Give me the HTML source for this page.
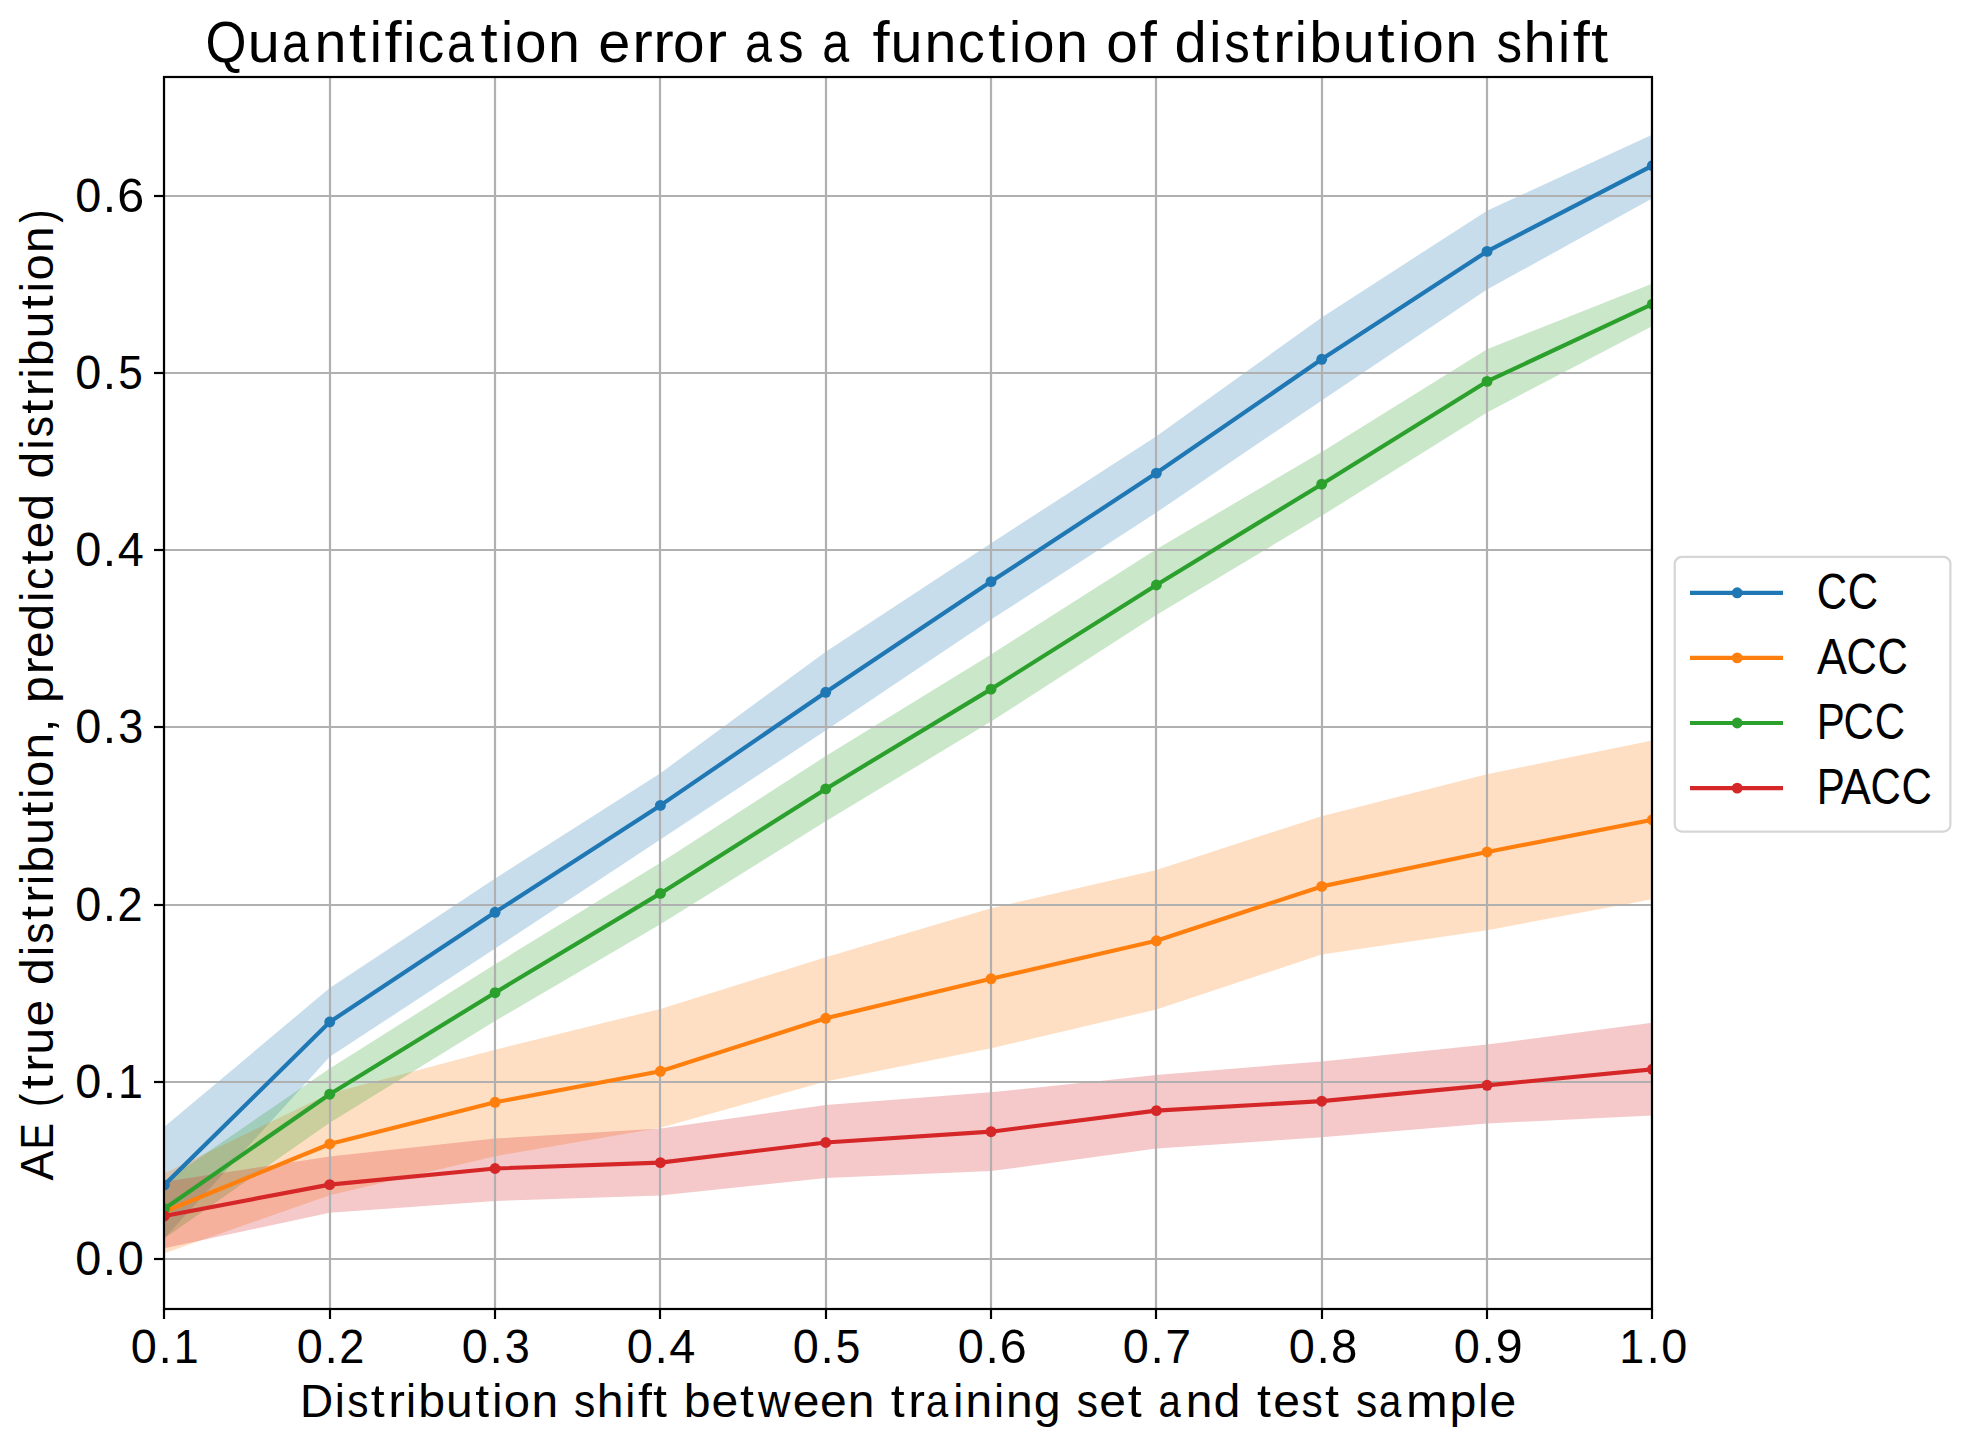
<!DOCTYPE html><html><head><meta charset="utf-8"><style>html,body{margin:0;padding:0;background:#fff;}svg{display:block;}text{font-family:"Liberation Sans",sans-serif;fill:#000;}</style></head><body>
<svg width="1969" height="1446" viewBox="0 0 1969 1446">
<rect x="0" y="0" width="1969" height="1446" fill="#fff"/>
<defs><clipPath id="ax"><rect x="164.0" y="77.0" width="1488.0" height="1232.0"/></clipPath></defs>
<g clip-path="url(#ax)">
<polygon points="164.40,1126.80 329.73,988.00 495.06,878.40 660.39,773.20 825.72,651.70 991.05,543.20 1156.38,436.30 1321.71,317.40 1487.04,210.70 1652.37,134.50 1652.37,198.40 1487.04,289.60 1321.71,400.40 1156.38,512.50 991.05,619.60 825.72,730.50 660.39,839.60 495.06,948.60 329.73,1056.80 164.40,1238.20" fill="#1f77b4" fill-opacity="0.25" stroke="none"/>
<polygon points="164.40,1173.20 329.73,1093.60 495.06,1049.70 660.39,1008.90 825.72,957.20 991.05,908.30 1156.38,869.90 1321.71,816.20 1487.04,774.30 1652.37,740.40 1652.37,899.20 1487.04,930.20 1321.71,954.40 1156.38,1009.50 991.05,1048.30 825.72,1081.40 660.39,1127.70 495.06,1156.20 329.73,1195.30 164.40,1253.20" fill="#ff7f0e" fill-opacity="0.25" stroke="none"/>
<polygon points="164.40,1181.70 329.73,1068.40 495.06,964.30 660.39,862.80 825.72,756.10 991.05,654.40 1156.38,549.30 1321.71,451.90 1487.04,349.30 1652.37,283.50 1652.37,326.10 1487.04,412.40 1321.71,515.80 1156.38,615.00 991.05,721.60 825.72,821.20 660.39,924.20 495.06,1021.00 329.73,1122.70 164.40,1238.20" fill="#2ca02c" fill-opacity="0.25" stroke="none"/>
<polygon points="164.40,1181.70 329.73,1156.50 495.06,1138.60 660.39,1128.50 825.72,1105.00 991.05,1092.30 1156.38,1074.90 1321.71,1061.40 1487.04,1044.50 1652.37,1022.80 1652.37,1115.50 1487.04,1123.50 1321.71,1137.30 1156.38,1148.50 991.05,1171.10 825.72,1177.90 660.39,1195.40 495.06,1200.90 329.73,1212.70 164.40,1248.20" fill="#d62728" fill-opacity="0.25" stroke="none"/>
<line x1="164" y1="77.0" x2="164" y2="1309.0" stroke="#b0b0b0" stroke-width="2.2"/>
<line x1="330" y1="77.0" x2="330" y2="1309.0" stroke="#b0b0b0" stroke-width="2.2"/>
<line x1="495" y1="77.0" x2="495" y2="1309.0" stroke="#b0b0b0" stroke-width="2.2"/>
<line x1="660" y1="77.0" x2="660" y2="1309.0" stroke="#b0b0b0" stroke-width="2.2"/>
<line x1="826" y1="77.0" x2="826" y2="1309.0" stroke="#b0b0b0" stroke-width="2.2"/>
<line x1="991" y1="77.0" x2="991" y2="1309.0" stroke="#b0b0b0" stroke-width="2.2"/>
<line x1="1156" y1="77.0" x2="1156" y2="1309.0" stroke="#b0b0b0" stroke-width="2.2"/>
<line x1="1322" y1="77.0" x2="1322" y2="1309.0" stroke="#b0b0b0" stroke-width="2.2"/>
<line x1="1487" y1="77.0" x2="1487" y2="1309.0" stroke="#b0b0b0" stroke-width="2.2"/>
<line x1="1652" y1="77.0" x2="1652" y2="1309.0" stroke="#b0b0b0" stroke-width="2.2"/>
<line x1="164.0" y1="1259" x2="1652.0" y2="1259" stroke="#b0b0b0" stroke-width="2.2"/>
<line x1="164.0" y1="1082" x2="1652.0" y2="1082" stroke="#b0b0b0" stroke-width="2.2"/>
<line x1="164.0" y1="905" x2="1652.0" y2="905" stroke="#b0b0b0" stroke-width="2.2"/>
<line x1="164.0" y1="727" x2="1652.0" y2="727" stroke="#b0b0b0" stroke-width="2.2"/>
<line x1="164.0" y1="550" x2="1652.0" y2="550" stroke="#b0b0b0" stroke-width="2.2"/>
<line x1="164.0" y1="373" x2="1652.0" y2="373" stroke="#b0b0b0" stroke-width="2.2"/>
<line x1="164.0" y1="196" x2="1652.0" y2="196" stroke="#b0b0b0" stroke-width="2.2"/>
<polyline points="164.40,1184.90 329.73,1022.00 495.06,912.30 660.39,805.40 825.72,692.30 991.05,581.60 1156.38,473.10 1321.71,359.30 1487.04,251.40 1652.37,165.60" fill="none" stroke="#1f77b4" stroke-width="4.17" stroke-linejoin="round" stroke-linecap="butt"/>
<circle cx="164.40" cy="1184.90" r="5.45" fill="#1f77b4"/>
<circle cx="329.73" cy="1022.00" r="5.45" fill="#1f77b4"/>
<circle cx="495.06" cy="912.30" r="5.45" fill="#1f77b4"/>
<circle cx="660.39" cy="805.40" r="5.45" fill="#1f77b4"/>
<circle cx="825.72" cy="692.30" r="5.45" fill="#1f77b4"/>
<circle cx="991.05" cy="581.60" r="5.45" fill="#1f77b4"/>
<circle cx="1156.38" cy="473.10" r="5.45" fill="#1f77b4"/>
<circle cx="1321.71" cy="359.30" r="5.45" fill="#1f77b4"/>
<circle cx="1487.04" cy="251.40" r="5.45" fill="#1f77b4"/>
<circle cx="1652.37" cy="165.60" r="5.45" fill="#1f77b4"/>
<polyline points="164.40,1211.70 329.73,1144.00 495.06,1102.30 660.39,1071.30 825.72,1018.30 991.05,978.80 1156.38,940.80 1321.71,886.40 1487.04,852.00 1652.37,819.80" fill="none" stroke="#ff7f0e" stroke-width="4.17" stroke-linejoin="round" stroke-linecap="butt"/>
<circle cx="164.40" cy="1211.70" r="5.45" fill="#ff7f0e"/>
<circle cx="329.73" cy="1144.00" r="5.45" fill="#ff7f0e"/>
<circle cx="495.06" cy="1102.30" r="5.45" fill="#ff7f0e"/>
<circle cx="660.39" cy="1071.30" r="5.45" fill="#ff7f0e"/>
<circle cx="825.72" cy="1018.30" r="5.45" fill="#ff7f0e"/>
<circle cx="991.05" cy="978.80" r="5.45" fill="#ff7f0e"/>
<circle cx="1156.38" cy="940.80" r="5.45" fill="#ff7f0e"/>
<circle cx="1321.71" cy="886.40" r="5.45" fill="#ff7f0e"/>
<circle cx="1487.04" cy="852.00" r="5.45" fill="#ff7f0e"/>
<circle cx="1652.37" cy="819.80" r="5.45" fill="#ff7f0e"/>
<polyline points="164.40,1208.70 329.73,1094.20 495.06,992.70 660.39,893.40 825.72,788.90 991.05,689.10 1156.38,585.00 1321.71,484.20 1487.04,381.40 1652.37,304.10" fill="none" stroke="#2ca02c" stroke-width="4.17" stroke-linejoin="round" stroke-linecap="butt"/>
<circle cx="164.40" cy="1208.70" r="5.45" fill="#2ca02c"/>
<circle cx="329.73" cy="1094.20" r="5.45" fill="#2ca02c"/>
<circle cx="495.06" cy="992.70" r="5.45" fill="#2ca02c"/>
<circle cx="660.39" cy="893.40" r="5.45" fill="#2ca02c"/>
<circle cx="825.72" cy="788.90" r="5.45" fill="#2ca02c"/>
<circle cx="991.05" cy="689.10" r="5.45" fill="#2ca02c"/>
<circle cx="1156.38" cy="585.00" r="5.45" fill="#2ca02c"/>
<circle cx="1321.71" cy="484.20" r="5.45" fill="#2ca02c"/>
<circle cx="1487.04" cy="381.40" r="5.45" fill="#2ca02c"/>
<circle cx="1652.37" cy="304.10" r="5.45" fill="#2ca02c"/>
<polyline points="164.40,1216.00 329.73,1184.60 495.06,1168.50 660.39,1162.60 825.72,1142.50 991.05,1131.70 1156.38,1110.60 1321.71,1101.20 1487.04,1085.30 1652.37,1069.30" fill="none" stroke="#d62728" stroke-width="4.17" stroke-linejoin="round" stroke-linecap="butt"/>
<circle cx="164.40" cy="1216.00" r="5.45" fill="#d62728"/>
<circle cx="329.73" cy="1184.60" r="5.45" fill="#d62728"/>
<circle cx="495.06" cy="1168.50" r="5.45" fill="#d62728"/>
<circle cx="660.39" cy="1162.60" r="5.45" fill="#d62728"/>
<circle cx="825.72" cy="1142.50" r="5.45" fill="#d62728"/>
<circle cx="991.05" cy="1131.70" r="5.45" fill="#d62728"/>
<circle cx="1156.38" cy="1110.60" r="5.45" fill="#d62728"/>
<circle cx="1321.71" cy="1101.20" r="5.45" fill="#d62728"/>
<circle cx="1487.04" cy="1085.30" r="5.45" fill="#d62728"/>
<circle cx="1652.37" cy="1069.30" r="5.45" fill="#d62728"/>
</g>
<rect x="164.0" y="77.0" width="1488.0" height="1232.0" fill="none" stroke="#000" stroke-width="2.2" stroke-linejoin="miter"/>
<line x1="164" y1="1309.0" x2="164" y2="1319.0" stroke="#000" stroke-width="2.2"/>
<line x1="330" y1="1309.0" x2="330" y2="1319.0" stroke="#000" stroke-width="2.2"/>
<line x1="495" y1="1309.0" x2="495" y2="1319.0" stroke="#000" stroke-width="2.2"/>
<line x1="660" y1="1309.0" x2="660" y2="1319.0" stroke="#000" stroke-width="2.2"/>
<line x1="826" y1="1309.0" x2="826" y2="1319.0" stroke="#000" stroke-width="2.2"/>
<line x1="991" y1="1309.0" x2="991" y2="1319.0" stroke="#000" stroke-width="2.2"/>
<line x1="1156" y1="1309.0" x2="1156" y2="1319.0" stroke="#000" stroke-width="2.2"/>
<line x1="1322" y1="1309.0" x2="1322" y2="1319.0" stroke="#000" stroke-width="2.2"/>
<line x1="1487" y1="1309.0" x2="1487" y2="1319.0" stroke="#000" stroke-width="2.2"/>
<line x1="1652" y1="1309.0" x2="1652" y2="1319.0" stroke="#000" stroke-width="2.2"/>
<line x1="154.0" y1="1259" x2="164.0" y2="1259" stroke="#000" stroke-width="2.2"/>
<line x1="154.0" y1="1082" x2="164.0" y2="1082" stroke="#000" stroke-width="2.2"/>
<line x1="154.0" y1="905" x2="164.0" y2="905" stroke="#000" stroke-width="2.2"/>
<line x1="154.0" y1="727" x2="164.0" y2="727" stroke="#000" stroke-width="2.2"/>
<line x1="154.0" y1="550" x2="164.0" y2="550" stroke="#000" stroke-width="2.2"/>
<line x1="154.0" y1="373" x2="164.0" y2="373" stroke="#000" stroke-width="2.2"/>
<line x1="154.0" y1="196" x2="164.0" y2="196" stroke="#000" stroke-width="2.2"/>
<text x="130.86" y="1363.00" font-size="49" textLength="26.06" lengthAdjust="spacingAndGlyphs">0</text>
<text x="158.40" y="1363.00" font-size="49" textLength="13.36" lengthAdjust="spacingAndGlyphs">.</text>
<text x="173.64" y="1363.00" font-size="49" textLength="24.89" lengthAdjust="spacingAndGlyphs">1</text>
<text x="296.86" y="1363.00" font-size="49" textLength="26.06" lengthAdjust="spacingAndGlyphs">0</text>
<text x="324.40" y="1363.00" font-size="49" textLength="13.36" lengthAdjust="spacingAndGlyphs">.</text>
<text x="339.15" y="1363.00" font-size="49" textLength="25.12" lengthAdjust="spacingAndGlyphs">2</text>
<text x="461.86" y="1363.00" font-size="49" textLength="26.06" lengthAdjust="spacingAndGlyphs">0</text>
<text x="489.40" y="1363.00" font-size="49" textLength="13.36" lengthAdjust="spacingAndGlyphs">.</text>
<text x="504.84" y="1363.00" font-size="49" textLength="25.02" lengthAdjust="spacingAndGlyphs">3</text>
<text x="626.86" y="1363.00" font-size="49" textLength="26.06" lengthAdjust="spacingAndGlyphs">0</text>
<text x="654.40" y="1363.00" font-size="49" textLength="13.36" lengthAdjust="spacingAndGlyphs">.</text>
<text x="669.26" y="1363.00" font-size="49" textLength="26.06" lengthAdjust="spacingAndGlyphs">4</text>
<text x="792.86" y="1363.00" font-size="49" textLength="26.06" lengthAdjust="spacingAndGlyphs">0</text>
<text x="820.40" y="1363.00" font-size="49" textLength="13.36" lengthAdjust="spacingAndGlyphs">.</text>
<text x="835.82" y="1363.00" font-size="49" textLength="24.59" lengthAdjust="spacingAndGlyphs">5</text>
<text x="957.86" y="1363.00" font-size="49" textLength="26.06" lengthAdjust="spacingAndGlyphs">0</text>
<text x="985.40" y="1363.00" font-size="49" textLength="13.36" lengthAdjust="spacingAndGlyphs">.</text>
<text x="999.80" y="1363.00" font-size="49" textLength="26.97" lengthAdjust="spacingAndGlyphs">6</text>
<text x="1122.86" y="1363.00" font-size="49" textLength="26.06" lengthAdjust="spacingAndGlyphs">0</text>
<text x="1150.40" y="1363.00" font-size="49" textLength="13.36" lengthAdjust="spacingAndGlyphs">.</text>
<text x="1165.46" y="1363.00" font-size="49" textLength="25.49" lengthAdjust="spacingAndGlyphs">7</text>
<text x="1288.86" y="1363.00" font-size="49" textLength="26.06" lengthAdjust="spacingAndGlyphs">0</text>
<text x="1316.40" y="1363.00" font-size="49" textLength="13.36" lengthAdjust="spacingAndGlyphs">.</text>
<text x="1331.12" y="1363.00" font-size="49" textLength="26.34" lengthAdjust="spacingAndGlyphs">8</text>
<text x="1453.86" y="1363.00" font-size="49" textLength="26.06" lengthAdjust="spacingAndGlyphs">0</text>
<text x="1481.40" y="1363.00" font-size="49" textLength="13.36" lengthAdjust="spacingAndGlyphs">.</text>
<text x="1495.69" y="1363.00" font-size="49" textLength="26.91" lengthAdjust="spacingAndGlyphs">9</text>
<text x="1619.23" y="1363.00" font-size="49" textLength="24.89" lengthAdjust="spacingAndGlyphs">1</text>
<text x="1646.40" y="1363.00" font-size="49" textLength="13.36" lengthAdjust="spacingAndGlyphs">.</text>
<text x="1661.26" y="1363.00" font-size="49" textLength="26.06" lengthAdjust="spacingAndGlyphs">0</text>
<text x="75.32" y="1275.30" font-size="49" textLength="26.06" lengthAdjust="spacingAndGlyphs">0</text>
<text x="102.86" y="1275.30" font-size="49" textLength="13.36" lengthAdjust="spacingAndGlyphs">.</text>
<text x="117.72" y="1275.30" font-size="49" textLength="26.06" lengthAdjust="spacingAndGlyphs">0</text>
<text x="75.32" y="1098.30" font-size="49" textLength="26.06" lengthAdjust="spacingAndGlyphs">0</text>
<text x="102.86" y="1098.30" font-size="49" textLength="13.36" lengthAdjust="spacingAndGlyphs">.</text>
<text x="118.10" y="1098.30" font-size="49" textLength="24.89" lengthAdjust="spacingAndGlyphs">1</text>
<text x="75.32" y="921.30" font-size="49" textLength="26.06" lengthAdjust="spacingAndGlyphs">0</text>
<text x="102.86" y="921.30" font-size="49" textLength="13.36" lengthAdjust="spacingAndGlyphs">.</text>
<text x="117.61" y="921.30" font-size="49" textLength="25.12" lengthAdjust="spacingAndGlyphs">2</text>
<text x="75.32" y="743.30" font-size="49" textLength="26.06" lengthAdjust="spacingAndGlyphs">0</text>
<text x="102.86" y="743.30" font-size="49" textLength="13.36" lengthAdjust="spacingAndGlyphs">.</text>
<text x="118.30" y="743.30" font-size="49" textLength="25.02" lengthAdjust="spacingAndGlyphs">3</text>
<text x="75.32" y="566.30" font-size="49" textLength="26.06" lengthAdjust="spacingAndGlyphs">0</text>
<text x="102.86" y="566.30" font-size="49" textLength="13.36" lengthAdjust="spacingAndGlyphs">.</text>
<text x="117.72" y="566.30" font-size="49" textLength="26.06" lengthAdjust="spacingAndGlyphs">4</text>
<text x="75.32" y="389.30" font-size="49" textLength="26.06" lengthAdjust="spacingAndGlyphs">0</text>
<text x="102.86" y="389.30" font-size="49" textLength="13.36" lengthAdjust="spacingAndGlyphs">.</text>
<text x="118.28" y="389.30" font-size="49" textLength="24.59" lengthAdjust="spacingAndGlyphs">5</text>
<text x="75.32" y="212.30" font-size="49" textLength="26.06" lengthAdjust="spacingAndGlyphs">0</text>
<text x="102.86" y="212.30" font-size="49" textLength="13.36" lengthAdjust="spacingAndGlyphs">.</text>
<text x="117.26" y="212.30" font-size="49" textLength="26.97" lengthAdjust="spacingAndGlyphs">6</text>
<text x="205.62" y="61.60" font-size="57" textLength="41.01" lengthAdjust="spacingAndGlyphs">Q</text>
<text x="247.89" y="61.60" font-size="57" textLength="31.98" lengthAdjust="spacingAndGlyphs">u</text>
<text x="281.92" y="61.60" font-size="57" textLength="26.95" lengthAdjust="spacingAndGlyphs">a</text>
<text x="314.61" y="61.60" font-size="57" textLength="31.98" lengthAdjust="spacingAndGlyphs">n</text>
<text x="349.13" y="61.60" font-size="57" textLength="17.10" lengthAdjust="spacingAndGlyphs">t</text>
<text x="369.67" y="61.60" font-size="57" textLength="12.11" lengthAdjust="spacingAndGlyphs">i</text>
<text x="384.59" y="61.60" font-size="57" textLength="17.10" lengthAdjust="spacingAndGlyphs">f</text>
<text x="403.27" y="61.60" font-size="57" textLength="12.11" lengthAdjust="spacingAndGlyphs">i</text>
<text x="417.38" y="61.60" font-size="57" textLength="26.76" lengthAdjust="spacingAndGlyphs">c</text>
<text x="447.05" y="61.60" font-size="57" textLength="26.95" lengthAdjust="spacingAndGlyphs">a</text>
<text x="480.45" y="61.60" font-size="57" textLength="17.10" lengthAdjust="spacingAndGlyphs">t</text>
<text x="501.00" y="61.60" font-size="57" textLength="12.11" lengthAdjust="spacingAndGlyphs">i</text>
<text x="515.00" y="61.60" font-size="57" textLength="31.53" lengthAdjust="spacingAndGlyphs">o</text>
<text x="548.10" y="61.60" font-size="57" textLength="31.98" lengthAdjust="spacingAndGlyphs">n</text>
<text x="598.32" y="61.60" font-size="57" textLength="32.04" lengthAdjust="spacingAndGlyphs">e</text>
<text x="632.24" y="61.60" font-size="57" textLength="20.50" lengthAdjust="spacingAndGlyphs">r</text>
<text x="653.23" y="61.60" font-size="57" textLength="20.50" lengthAdjust="spacingAndGlyphs">r</text>
<text x="672.94" y="61.60" font-size="57" textLength="31.53" lengthAdjust="spacingAndGlyphs">o</text>
<text x="706.61" y="61.60" font-size="57" textLength="20.50" lengthAdjust="spacingAndGlyphs">r</text>
<text x="744.91" y="61.60" font-size="57" textLength="26.95" lengthAdjust="spacingAndGlyphs">a</text>
<text x="778.04" y="61.60" font-size="57" textLength="25.56" lengthAdjust="spacingAndGlyphs">s</text>
<text x="822.33" y="61.60" font-size="57" textLength="26.95" lengthAdjust="spacingAndGlyphs">a</text>
<text x="872.42" y="61.60" font-size="57" textLength="17.10" lengthAdjust="spacingAndGlyphs">f</text>
<text x="890.52" y="61.60" font-size="57" textLength="31.98" lengthAdjust="spacingAndGlyphs">u</text>
<text x="924.55" y="61.60" font-size="57" textLength="31.98" lengthAdjust="spacingAndGlyphs">n</text>
<text x="958.00" y="61.60" font-size="57" textLength="26.76" lengthAdjust="spacingAndGlyphs">c</text>
<text x="988.39" y="61.60" font-size="57" textLength="17.10" lengthAdjust="spacingAndGlyphs">t</text>
<text x="1008.94" y="61.60" font-size="57" textLength="12.11" lengthAdjust="spacingAndGlyphs">i</text>
<text x="1022.94" y="61.60" font-size="57" textLength="31.53" lengthAdjust="spacingAndGlyphs">o</text>
<text x="1056.03" y="61.60" font-size="57" textLength="31.98" lengthAdjust="spacingAndGlyphs">n</text>
<text x="1106.33" y="61.60" font-size="57" textLength="31.53" lengthAdjust="spacingAndGlyphs">o</text>
<text x="1139.87" y="61.60" font-size="57" textLength="17.10" lengthAdjust="spacingAndGlyphs">f</text>
<text x="1174.63" y="61.60" font-size="57" textLength="32.24" lengthAdjust="spacingAndGlyphs">d</text>
<text x="1209.36" y="61.60" font-size="57" textLength="12.11" lengthAdjust="spacingAndGlyphs">i</text>
<text x="1224.26" y="61.60" font-size="57" textLength="25.56" lengthAdjust="spacingAndGlyphs">s</text>
<text x="1252.32" y="61.60" font-size="57" textLength="17.10" lengthAdjust="spacingAndGlyphs">t</text>
<text x="1273.09" y="61.60" font-size="57" textLength="20.50" lengthAdjust="spacingAndGlyphs">r</text>
<text x="1294.80" y="61.60" font-size="57" textLength="12.11" lengthAdjust="spacingAndGlyphs">i</text>
<text x="1309.34" y="61.60" font-size="57" textLength="32.27" lengthAdjust="spacingAndGlyphs">b</text>
<text x="1342.89" y="61.60" font-size="57" textLength="31.98" lengthAdjust="spacingAndGlyphs">u</text>
<text x="1377.63" y="61.60" font-size="57" textLength="17.10" lengthAdjust="spacingAndGlyphs">t</text>
<text x="1398.18" y="61.60" font-size="57" textLength="12.11" lengthAdjust="spacingAndGlyphs">i</text>
<text x="1412.18" y="61.60" font-size="57" textLength="31.53" lengthAdjust="spacingAndGlyphs">o</text>
<text x="1445.28" y="61.60" font-size="57" textLength="31.98" lengthAdjust="spacingAndGlyphs">n</text>
<text x="1496.47" y="61.60" font-size="57" textLength="25.56" lengthAdjust="spacingAndGlyphs">s</text>
<text x="1523.62" y="61.60" font-size="57" textLength="32.20" lengthAdjust="spacingAndGlyphs">h</text>
<text x="1557.97" y="61.60" font-size="57" textLength="12.11" lengthAdjust="spacingAndGlyphs">i</text>
<text x="1572.89" y="61.60" font-size="57" textLength="17.10" lengthAdjust="spacingAndGlyphs">f</text>
<text x="1590.99" y="61.60" font-size="57" textLength="17.10" lengthAdjust="spacingAndGlyphs">t</text>
<text x="300.06" y="1417.00" font-size="46.5" textLength="33.21" lengthAdjust="spacingAndGlyphs">D</text>
<text x="334.84" y="1417.00" font-size="46.5" textLength="10.09" lengthAdjust="spacingAndGlyphs">i</text>
<text x="347.27" y="1417.00" font-size="46.5" textLength="21.30" lengthAdjust="spacingAndGlyphs">s</text>
<text x="370.80" y="1417.00" font-size="46.5" textLength="13.95" lengthAdjust="spacingAndGlyphs">t</text>
<text x="388.17" y="1417.00" font-size="46.5" textLength="16.72" lengthAdjust="spacingAndGlyphs">r</text>
<text x="406.05" y="1417.00" font-size="46.5" textLength="10.09" lengthAdjust="spacingAndGlyphs">i</text>
<text x="418.16" y="1417.00" font-size="46.5" textLength="26.89" lengthAdjust="spacingAndGlyphs">b</text>
<text x="446.12" y="1417.00" font-size="46.5" textLength="26.65" lengthAdjust="spacingAndGlyphs">u</text>
<text x="475.23" y="1417.00" font-size="46.5" textLength="13.95" lengthAdjust="spacingAndGlyphs">t</text>
<text x="492.20" y="1417.00" font-size="46.5" textLength="10.09" lengthAdjust="spacingAndGlyphs">i</text>
<text x="503.87" y="1417.00" font-size="46.5" textLength="26.28" lengthAdjust="spacingAndGlyphs">o</text>
<text x="531.44" y="1417.00" font-size="46.5" textLength="26.65" lengthAdjust="spacingAndGlyphs">n</text>
<text x="574.11" y="1417.00" font-size="46.5" textLength="21.30" lengthAdjust="spacingAndGlyphs">s</text>
<text x="596.73" y="1417.00" font-size="46.5" textLength="26.83" lengthAdjust="spacingAndGlyphs">h</text>
<text x="625.36" y="1417.00" font-size="46.5" textLength="10.09" lengthAdjust="spacingAndGlyphs">i</text>
<text x="637.94" y="1417.00" font-size="46.5" textLength="13.95" lengthAdjust="spacingAndGlyphs">f</text>
<text x="653.03" y="1417.00" font-size="46.5" textLength="13.95" lengthAdjust="spacingAndGlyphs">t</text>
<text x="683.89" y="1417.00" font-size="46.5" textLength="26.89" lengthAdjust="spacingAndGlyphs">b</text>
<text x="711.60" y="1417.00" font-size="46.5" textLength="26.70" lengthAdjust="spacingAndGlyphs">e</text>
<text x="740.14" y="1417.00" font-size="46.5" textLength="13.95" lengthAdjust="spacingAndGlyphs">t</text>
<text x="757.89" y="1417.00" font-size="46.5" textLength="32.44" lengthAdjust="spacingAndGlyphs">w</text>
<text x="792.72" y="1417.00" font-size="46.5" textLength="26.70" lengthAdjust="spacingAndGlyphs">e</text>
<text x="820.06" y="1417.00" font-size="46.5" textLength="26.70" lengthAdjust="spacingAndGlyphs">e</text>
<text x="847.85" y="1417.00" font-size="46.5" textLength="26.65" lengthAdjust="spacingAndGlyphs">n</text>
<text x="890.89" y="1417.00" font-size="46.5" textLength="13.95" lengthAdjust="spacingAndGlyphs">t</text>
<text x="908.26" y="1417.00" font-size="46.5" textLength="16.72" lengthAdjust="spacingAndGlyphs">r</text>
<text x="925.96" y="1417.00" font-size="46.5" textLength="22.23" lengthAdjust="spacingAndGlyphs">a</text>
<text x="953.37" y="1417.00" font-size="46.5" textLength="10.09" lengthAdjust="spacingAndGlyphs">i</text>
<text x="965.42" y="1417.00" font-size="46.5" textLength="26.65" lengthAdjust="spacingAndGlyphs">n</text>
<text x="993.89" y="1417.00" font-size="46.5" textLength="10.09" lengthAdjust="spacingAndGlyphs">i</text>
<text x="1005.94" y="1417.00" font-size="46.5" textLength="26.65" lengthAdjust="spacingAndGlyphs">n</text>
<text x="1033.68" y="1417.00" font-size="46.5" textLength="26.86" lengthAdjust="spacingAndGlyphs">g</text>
<text x="1076.82" y="1417.00" font-size="46.5" textLength="21.30" lengthAdjust="spacingAndGlyphs">s</text>
<text x="1099.16" y="1417.00" font-size="46.5" textLength="26.70" lengthAdjust="spacingAndGlyphs">e</text>
<text x="1127.70" y="1417.00" font-size="46.5" textLength="13.95" lengthAdjust="spacingAndGlyphs">t</text>
<text x="1158.62" y="1417.00" font-size="46.5" textLength="22.23" lengthAdjust="spacingAndGlyphs">a</text>
<text x="1185.73" y="1417.00" font-size="46.5" textLength="26.65" lengthAdjust="spacingAndGlyphs">n</text>
<text x="1213.47" y="1417.00" font-size="46.5" textLength="26.86" lengthAdjust="spacingAndGlyphs">d</text>
<text x="1256.99" y="1417.00" font-size="46.5" textLength="13.95" lengthAdjust="spacingAndGlyphs">t</text>
<text x="1273.23" y="1417.00" font-size="46.5" textLength="26.70" lengthAdjust="spacingAndGlyphs">e</text>
<text x="1301.38" y="1417.00" font-size="46.5" textLength="21.30" lengthAdjust="spacingAndGlyphs">s</text>
<text x="1324.92" y="1417.00" font-size="46.5" textLength="13.95" lengthAdjust="spacingAndGlyphs">t</text>
<text x="1356.09" y="1417.00" font-size="46.5" textLength="21.30" lengthAdjust="spacingAndGlyphs">s</text>
<text x="1378.99" y="1417.00" font-size="46.5" textLength="22.23" lengthAdjust="spacingAndGlyphs">a</text>
<text x="1406.10" y="1417.00" font-size="46.5" textLength="41.83" lengthAdjust="spacingAndGlyphs">m</text>
<text x="1449.47" y="1417.00" font-size="46.5" textLength="26.89" lengthAdjust="spacingAndGlyphs">p</text>
<text x="1477.89" y="1417.00" font-size="46.5" textLength="10.09" lengthAdjust="spacingAndGlyphs">l</text>
<text x="1489.52" y="1417.00" font-size="46.5" textLength="26.70" lengthAdjust="spacingAndGlyphs">e</text>
<g transform="rotate(-90)">
<text x="-1180.49" y="52.90" font-size="46.5" textLength="29.86" lengthAdjust="spacingAndGlyphs">A</text>
<text x="-1149.50" y="52.90" font-size="46.5" textLength="26.36" lengthAdjust="spacingAndGlyphs">E</text>
<text x="-1107.03" y="52.90" font-size="46.5" textLength="13.16" lengthAdjust="spacingAndGlyphs">(</text>
<text x="-1089.19" y="52.90" font-size="46.5" textLength="13.95" lengthAdjust="spacingAndGlyphs">t</text>
<text x="-1071.83" y="52.90" font-size="46.5" textLength="16.72" lengthAdjust="spacingAndGlyphs">r</text>
<text x="-1054.43" y="52.90" font-size="46.5" textLength="26.65" lengthAdjust="spacingAndGlyphs">u</text>
<text x="-1026.52" y="52.90" font-size="46.5" textLength="26.70" lengthAdjust="spacingAndGlyphs">e</text>
<text x="-985.03" y="52.90" font-size="46.5" textLength="26.86" lengthAdjust="spacingAndGlyphs">d</text>
<text x="-956.10" y="52.90" font-size="46.5" textLength="10.09" lengthAdjust="spacingAndGlyphs">i</text>
<text x="-943.68" y="52.90" font-size="46.5" textLength="21.30" lengthAdjust="spacingAndGlyphs">s</text>
<text x="-920.14" y="52.90" font-size="46.5" textLength="13.95" lengthAdjust="spacingAndGlyphs">t</text>
<text x="-902.78" y="52.90" font-size="46.5" textLength="16.72" lengthAdjust="spacingAndGlyphs">r</text>
<text x="-884.90" y="52.90" font-size="46.5" textLength="10.09" lengthAdjust="spacingAndGlyphs">i</text>
<text x="-872.78" y="52.90" font-size="46.5" textLength="26.89" lengthAdjust="spacingAndGlyphs">b</text>
<text x="-844.82" y="52.90" font-size="46.5" textLength="26.65" lengthAdjust="spacingAndGlyphs">u</text>
<text x="-815.71" y="52.90" font-size="46.5" textLength="13.95" lengthAdjust="spacingAndGlyphs">t</text>
<text x="-798.74" y="52.90" font-size="46.5" textLength="10.09" lengthAdjust="spacingAndGlyphs">i</text>
<text x="-787.08" y="52.90" font-size="46.5" textLength="26.28" lengthAdjust="spacingAndGlyphs">o</text>
<text x="-759.50" y="52.90" font-size="46.5" textLength="26.65" lengthAdjust="spacingAndGlyphs">n</text>
<text x="-732.55" y="52.90" font-size="46.5" textLength="13.95" lengthAdjust="spacingAndGlyphs">,</text>
<text x="-703.01" y="52.90" font-size="46.5" textLength="26.89" lengthAdjust="spacingAndGlyphs">p</text>
<text x="-674.18" y="52.90" font-size="46.5" textLength="16.72" lengthAdjust="spacingAndGlyphs">r</text>
<text x="-658.01" y="52.90" font-size="46.5" textLength="26.70" lengthAdjust="spacingAndGlyphs">e</text>
<text x="-630.65" y="52.90" font-size="46.5" textLength="26.86" lengthAdjust="spacingAndGlyphs">d</text>
<text x="-601.72" y="52.90" font-size="46.5" textLength="10.09" lengthAdjust="spacingAndGlyphs">i</text>
<text x="-589.96" y="52.90" font-size="46.5" textLength="22.30" lengthAdjust="spacingAndGlyphs">c</text>
<text x="-564.48" y="52.90" font-size="46.5" textLength="13.95" lengthAdjust="spacingAndGlyphs">t</text>
<text x="-548.24" y="52.90" font-size="46.5" textLength="26.70" lengthAdjust="spacingAndGlyphs">e</text>
<text x="-520.89" y="52.90" font-size="46.5" textLength="26.86" lengthAdjust="spacingAndGlyphs">d</text>
<text x="-478.55" y="52.90" font-size="46.5" textLength="26.86" lengthAdjust="spacingAndGlyphs">d</text>
<text x="-449.61" y="52.90" font-size="46.5" textLength="10.09" lengthAdjust="spacingAndGlyphs">i</text>
<text x="-437.19" y="52.90" font-size="46.5" textLength="21.30" lengthAdjust="spacingAndGlyphs">s</text>
<text x="-413.65" y="52.90" font-size="46.5" textLength="13.95" lengthAdjust="spacingAndGlyphs">t</text>
<text x="-396.29" y="52.90" font-size="46.5" textLength="16.72" lengthAdjust="spacingAndGlyphs">r</text>
<text x="-378.41" y="52.90" font-size="46.5" textLength="10.09" lengthAdjust="spacingAndGlyphs">i</text>
<text x="-366.29" y="52.90" font-size="46.5" textLength="26.89" lengthAdjust="spacingAndGlyphs">b</text>
<text x="-338.34" y="52.90" font-size="46.5" textLength="26.65" lengthAdjust="spacingAndGlyphs">u</text>
<text x="-309.23" y="52.90" font-size="46.5" textLength="13.95" lengthAdjust="spacingAndGlyphs">t</text>
<text x="-292.26" y="52.90" font-size="46.5" textLength="10.09" lengthAdjust="spacingAndGlyphs">i</text>
<text x="-280.59" y="52.90" font-size="46.5" textLength="26.28" lengthAdjust="spacingAndGlyphs">o</text>
<text x="-253.01" y="52.90" font-size="46.5" textLength="26.65" lengthAdjust="spacingAndGlyphs">n</text>
<text x="-222.63" y="52.90" font-size="46.5" textLength="13.16" lengthAdjust="spacingAndGlyphs">)</text>
</g>
<rect x="1674.75" y="556.8" width="275.6500000000001" height="274.80000000000007" rx="7" ry="7" fill="#fff" fill-opacity="0.8" stroke="#cccccc" stroke-opacity="0.8" stroke-width="2.2"/>
<line x1="1690" y1="592.80" x2="1783" y2="592.80" stroke="#1f77b4" stroke-width="4.17"/>
<circle cx="1737.20" cy="592.80" r="5.45" fill="#1f77b4"/>
<text x="1816.80" y="608.60" font-size="49.5" textLength="30.39" lengthAdjust="spacingAndGlyphs">C</text>
<text x="1847.83" y="608.60" font-size="49.5" textLength="30.39" lengthAdjust="spacingAndGlyphs">C</text>
<line x1="1690" y1="657.90" x2="1783" y2="657.90" stroke="#ff7f0e" stroke-width="4.17"/>
<circle cx="1737.20" cy="657.90" r="5.45" fill="#ff7f0e"/>
<text x="1816.96" y="673.70" font-size="49.5" textLength="29.86" lengthAdjust="spacingAndGlyphs">A</text>
<text x="1846.42" y="673.70" font-size="49.5" textLength="30.39" lengthAdjust="spacingAndGlyphs">C</text>
<text x="1877.45" y="673.70" font-size="49.5" textLength="30.39" lengthAdjust="spacingAndGlyphs">C</text>
<line x1="1690" y1="723.00" x2="1783" y2="723.00" stroke="#2ca02c" stroke-width="4.17"/>
<circle cx="1737.20" cy="723.00" r="5.45" fill="#2ca02c"/>
<text x="1816.87" y="738.80" font-size="49.5" textLength="28.06" lengthAdjust="spacingAndGlyphs">P</text>
<text x="1843.60" y="738.80" font-size="49.5" textLength="30.39" lengthAdjust="spacingAndGlyphs">C</text>
<text x="1874.63" y="738.80" font-size="49.5" textLength="30.39" lengthAdjust="spacingAndGlyphs">C</text>
<line x1="1690" y1="788.10" x2="1783" y2="788.10" stroke="#d62728" stroke-width="4.17"/>
<circle cx="1737.20" cy="788.10" r="5.45" fill="#d62728"/>
<text x="1816.87" y="803.90" font-size="49.5" textLength="28.06" lengthAdjust="spacingAndGlyphs">P</text>
<text x="1840.92" y="803.90" font-size="49.5" textLength="29.86" lengthAdjust="spacingAndGlyphs">A</text>
<text x="1870.38" y="803.90" font-size="49.5" textLength="30.39" lengthAdjust="spacingAndGlyphs">C</text>
<text x="1901.41" y="803.90" font-size="49.5" textLength="30.39" lengthAdjust="spacingAndGlyphs">C</text>
</svg></body></html>
